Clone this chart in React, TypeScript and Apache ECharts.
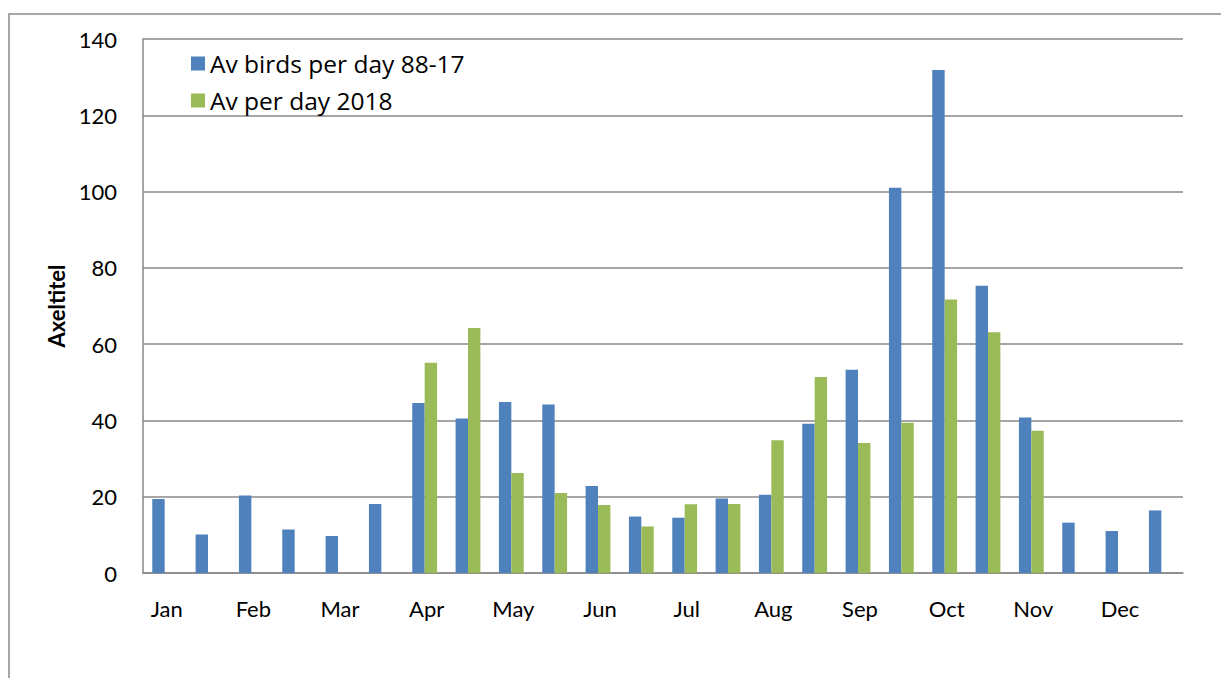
import React, { useEffect, useRef } from "react";
import * as echarts from "echarts";

const months = ["Jan", "Feb", "Mar", "Apr", "May", "Jun", "Jul", "Aug", "Sep", "Oct", "Nov", "Dec"];
// two half-month slots per month
const slots = months.flatMap((m) => [m + " 1", m + " 2"]);

const seriesNames = ["Av birds per day 88-17", "Av per day 2018"];

const avgBirds88to17 = [
  19.4, 10.1, 20.3, 11.4, 9.7, 18.1,
  44.6, 40.5, 44.8, 44.2, 22.8, 14.8,
  14.5, 19.5, 20.5, 39.1, 53.3, 101.0,
  131.9, 75.3, 40.8, 13.2, 11.0, 16.4,
];

const avg2018 = [
  null, null, null, null, null, null,
  55.1, 64.2, 26.2, 21.0, 17.8, 12.2,
  18.0, 18.1, 34.8, 51.4, 34.1, 39.4,
  71.7, 63.1, 37.3, null, null, null,
];

const yTicks = { min: 0, max: 140, interval: 20 };

const FONT = "Lato, 'Open Sans', sans-serif";
const LEGEND_FONT = "'Open Sans', Lato, sans-serif";

export default function App() {
  const ref = useRef<HTMLDivElement>(null);

  useEffect(() => {
    if (!ref.current) return;
    const chart = echarts.init(ref.current, undefined, { renderer: "svg" });
    chart.setOption({
      animation: false,
      backgroundColor: "#ffffff",
      textStyle: { fontFamily: FONT, color: "#000" },
      graphic: [
        {
          type: "rect",
          shape: { x: 9, y: 14, width: 1400, height: 900 },
          style: { fill: "none", stroke: "#8a8a8a", lineWidth: 1.5 },
          silent: true,
        },
      ],
      grid: { left: 143, right: 38, top: 39, bottom: 105, containLabel: false },
      legend: {
        left: 186,
        top: 46,
        orient: "vertical",
        itemWidth: 14,
        itemHeight: 14,
        itemGap: 12,
        icon: "rect",
        textStyle: { fontFamily: LEGEND_FONT, fontSize: 24.5, color: "#000" },
        data: seriesNames,
      },
      xAxis: {
        type: "category",
        data: slots,
        axisLine: { show: true, lineStyle: { color: "#888", width: 1.5 } },
        axisTick: { show: false },
        axisLabel: {
          interval: 0,
          margin: 24,
          fontSize: 22,
          fontFamily: FONT,
          color: "#000",
          padding: [0, 0, 0, 4],
          formatter: (v: string) => (v.endsWith(" 1") ? v.slice(0, -2) : ""),
        },
      },
      yAxis: {
        type: "value",
        min: yTicks.min,
        max: yTicks.max,
        interval: yTicks.interval,
        name: "Axeltitel",
        nameLocation: "middle",
        nameRotate: 90,
        nameGap: 76,
        nameTextStyle: { fontFamily: FONT, fontSize: 22, fontWeight: "bold", color: "#000" },
        axisLine: { show: true, lineStyle: { color: "#888", width: 1.5 } },
        axisTick: { show: false },
        axisLabel: { margin: 26, fontSize: 22, fontFamily: FONT, color: "#000" },
        splitLine: { show: true, lineStyle: { color: "#888", width: 1.5 } },
      },
      series: [
        {
          name: seriesNames[0],
          type: "bar",
          data: avgBirds88to17,
          barWidth: 12.4,
          barGap: "0%",
          itemStyle: { color: "#4F81BD" },
        },
        {
          name: seriesNames[1],
          type: "bar",
          data: avg2018,
          barWidth: 12.4,
          barGap: "0%",
          itemStyle: { color: "#9BBB59" },
        },
      ],
    });
    return () => chart.dispose();
  }, []);

  return (
    <div
      ref={ref}
      style={{ position: "absolute", left: 0, top: 0, width: 1221, height: 678 }}
    />
  );
}
